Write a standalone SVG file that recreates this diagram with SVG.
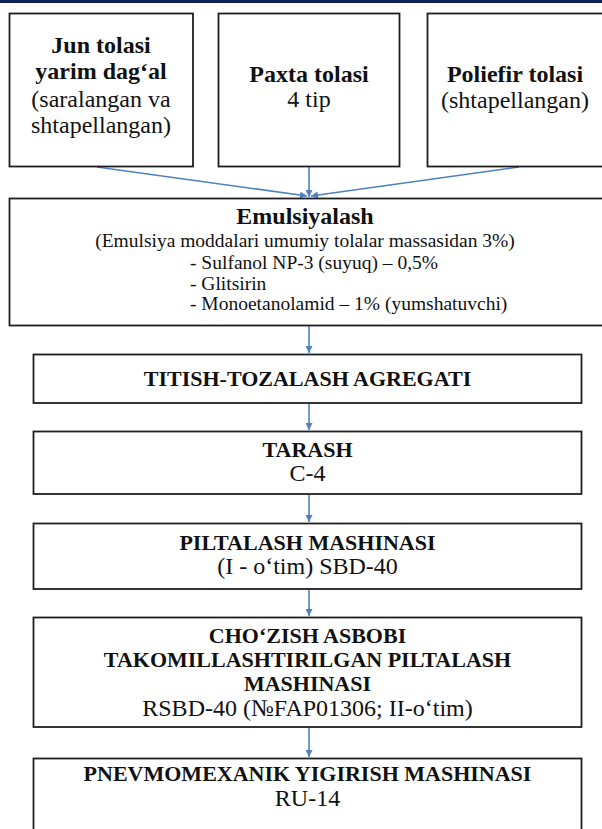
<svg xmlns="http://www.w3.org/2000/svg" width="602" height="829" viewBox="0 0 602 829">
<style>
.box{fill:#fff;stroke:#1e1e1e;stroke-width:1.8}
text{font-family:'Liberation Serif',Tinos,'Times New Roman',serif;fill:#111;text-anchor:middle}
.r24{font-size:24px}
.b24{font-size:24px;font-weight:bold}
.b22{font-size:22px;font-weight:bold}
.s{font-size:19.5px}
.l{text-anchor:start}
.c{fill:none;stroke:#4f81bd;stroke-width:1.6}
</style>
<defs>
<marker id="ah" viewBox="0 0 10 10" refX="10" refY="5" markerWidth="7" markerHeight="7" markerUnits="userSpaceOnUse" orient="auto">
<path d="M0,0 L10,5 L0,10 Z" fill="#4f81bd"/>
</marker>
</defs>
<rect x="0" y="0" width="602" height="829" fill="#fff"/>
<rect x="0" y="0" width="602" height="3" fill="#0d2355"/>
<g id="connectors">
<line class="c" x1="97" y1="167" x2="307" y2="196" marker-end="url(#ah)"/>
<line class="c" x1="309" y1="167" x2="309" y2="197" marker-end="url(#ah)"/>
<line class="c" x1="519" y1="167" x2="311" y2="196" marker-end="url(#ah)"/>
<line class="c" x1="309" y1="326" x2="309" y2="353" marker-end="url(#ah)"/>
<line class="c" x1="309" y1="404" x2="309" y2="430" marker-end="url(#ah)"/>
<line class="c" x1="309" y1="495" x2="309" y2="522" marker-end="url(#ah)"/>
<line class="c" x1="309" y1="590" x2="309" y2="616" marker-end="url(#ah)"/>
<line class="c" x1="309" y1="728" x2="309" y2="757" marker-end="url(#ah)"/>
</g>
<g id="jun">
<rect class="box" x="9.5" y="13.5" width="183.5" height="153"/>
<text class="b24" x="101" y="53">Jun tolasi</text>
<text class="b24" x="101" y="79">yarim dag‘al</text>
<text class="r24" x="101" y="107">(saralangan va</text>
<text class="r24" x="101" y="133">shtapellangan)</text>
</g>
<g id="paxta">
<rect class="box" x="218.5" y="13.5" width="181" height="153"/>
<text class="b24" x="309" y="82">Paxta tolasi</text>
<text class="r24" x="309" y="107">4 tip</text>
</g>
<g id="poliefir">
<rect class="box" x="427.5" y="13.5" width="178" height="153"/>
<text class="b24" x="515" y="82">Poliefir tolasi</text>
<text class="r24" x="515" y="108">(shtapellangan)</text>
</g>
<g id="emulsiyalash">
<rect class="box" x="9.5" y="198.5" width="596" height="127"/>
<text class="b24" x="305" y="224">Emulsiyalash</text>
<text class="s" x="305" y="247">(Emulsiya moddalari umumiy tolalar massasidan 3%)</text>
<text class="s l" x="190" y="269">- Sulfanol NP-3 (suyuq) – 0,5%</text>
<text class="s l" x="190" y="290">- Glitsirin</text>
<text class="s l" x="190" y="310">- Monoetanolamid – 1% (yumshatuvchi)</text>
</g>
<g id="titish">
<rect class="box" x="33.5" y="354.5" width="548" height="48.5"/>
<text class="b22" x="307.5" y="386">TITISH-TOZALASH AGREGATI</text>
</g>
<g id="tarash">
<rect class="box" x="33.5" y="431.5" width="548" height="62.5"/>
<text class="b22" x="307.5" y="457">TARASH</text>
<text class="r24" x="307.5" y="481">C-4</text>
</g>
<g id="piltalash">
<rect class="box" x="33.5" y="523.5" width="548" height="65.5"/>
<text class="b22" x="307.5" y="550">PILTALASH MASHINASI</text>
<text class="r24" x="307.5" y="574">(I - o‘tim) SBD-40</text>
</g>
<g id="chozish">
<rect class="box" x="33.5" y="617.5" width="548" height="109.5"/>
<text class="b22" x="307.5" y="643">CHO‘ZISH ASBOBI</text>
<text class="b22" x="307.5" y="667">TAKOMILLASHTIRILGAN PILTALASH</text>
<text class="b22" x="307.5" y="691">MASHINASI</text>
<text class="r24" x="307.5" y="716">RSBD-40 (№FAP01306; II-o‘tim)</text>
</g>
<g id="pnevmo">
<rect class="box" x="33.5" y="758.5" width="548" height="80"/>
<text class="b22" x="307.5" y="781">PNEVMOMEXANIK YIGIRISH MASHINASI</text>
<text class="r24" x="307.5" y="806">RU-14</text>
</g>
</svg>
